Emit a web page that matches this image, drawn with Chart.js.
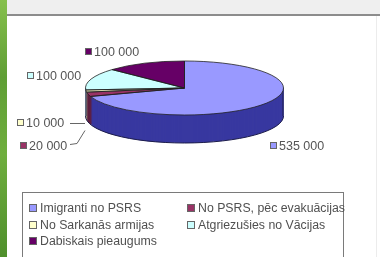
<!DOCTYPE html>
<html>
<head>
<meta charset="utf-8">
<script src="https://cdn.jsdelivr.net/npm/chart.js@4.4.1/dist/chart.umd.min.js"></script>
<style>
  body { margin: 0; background: #fff; font-family: "Liberation Sans", Arial, sans-serif; }
  #wrap { position: relative; width: 380px; height: 257px; overflow: hidden; background: #fff; }
  #green { position: absolute; left: 0; top: 0; width: 7px; height: 257px;
           background: linear-gradient(180deg, #86c04c 0%, #5f9e35 30%, #6fae3e 60%, #4f8f2c 100%); }
  #topband { position: absolute; left: 7px; top: 0; width: 373px; height: 14px; background: #efefef;
             border-bottom: 2px solid #8c8c8c; }
  #rline { position: absolute; left: 376px; top: 16px; width: 1px; height: 241px; background: #ececec; }
  canvas { position: absolute; left: 0; top: 0; }
  #legend { position: absolute; left: 22px; top: 192px; width: 320px; height: 70px;
            border: 1px solid #7a7a7a; background: #fff; }
  .item { position: absolute; font-size: 12.3px; color: #505050; white-space: nowrap; line-height: 14px; }
  .sw { display: inline-block; width: 6px; height: 6px; border: 1px solid #666; margin-right: 3px;
        vertical-align: 0px; }
</style>
</head>
<body>
<div id="wrap">
  <div id="green"></div>
  <div id="topband"></div>
  <div id="rline"></div>
  <canvas id="pie" width="380" height="257"></canvas>
  <div id="legend"></div>
</div>
<script>
// data
const categories = ["Imigranti no PSRS", "No PSRS, pēc evakuācijas", "No Sarkanās armijas",
                    "Atgriezušies no Vācijas", "Dabiskais pieaugums"];
const values = [535000, 20000, 10000, 100000, 100000];

// styles
const topColors  = ["#9999ff", "#993366", "#ffffcc", "#ccffff", "#660066"];
const sideColors = ["#3838a0", "#5e1f3f", "#a8a888", "#88a8a8", "#3e003e"];
const legendSpots = [[6, 8], [164, 8], [6, 25], [164, 25], [6, 41]]; // left, top inside box
const labelSpots  = [[270, 146], [20, 146], [17, 123], [27, 76], [85, 52]]; // marker left, text middle
const leaders = [null, [[70, 144], [77, 143], [85, 130]], [[70, 123], [85, 123]], null, null];

const TOP_Y = 88;      // centre of the top face on screen
const SQUASH = 27 / 99; // ry / rx
const DEPTH = 28;

function fmt(v) { return String(v).replace(/\B(?=(\d{3})+(?!\d))/g, " "); }

function squash(ctx, el, dy) {
  ctx.translate(el.x, TOP_Y + dy);
  ctx.scale(1, SQUASH);
  ctx.translate(-el.x, -el.y);
}

const pie3d = {
  id: "pie3d",
  beforeDatasetsDraw(chart) {
    const ctx = chart.ctx;
    const arcs = chart.getDatasetMeta(0).data;
    // side walls: stacked copies in darker colours
    for (let d = DEPTH; d >= 1; d--) {
      arcs.forEach((el, i) => {
        const o = el.options;
        el.options = Object.assign({}, o, { backgroundColor: sideColors[i], borderWidth: 0 });
        ctx.save();
        squash(ctx, el, d);
        el.draw(ctx);
        ctx.restore();
        el.options = o;
      });
    }
    // outline of the bottom edge and the side edges
    const el = arcs[0];
    ctx.save();
    squash(ctx, el, DEPTH);
    ctx.beginPath();
    ctx.arc(el.x, el.y, el.outerRadius, 0, Math.PI);
    ctx.restore();
    ctx.strokeStyle = "#1c1c4a";
    ctx.lineWidth = 1;
    ctx.stroke();
    ctx.beginPath();
    ctx.moveTo(el.x - el.outerRadius + 0.5, TOP_Y);
    ctx.lineTo(el.x - el.outerRadius + 0.5, TOP_Y + DEPTH);
    ctx.moveTo(el.x + el.outerRadius - 0.5, TOP_Y);
    ctx.lineTo(el.x + el.outerRadius - 0.5, TOP_Y + DEPTH);
    ctx.stroke();
    // top face
    ctx.save();
    squash(ctx, el, 0);
  },
  afterDatasetsDraw(chart) {
    const ctx = chart.ctx;
    ctx.restore();
    // slice outlines on the top face
    chart.getDatasetMeta(0).data.forEach(el => {
      ctx.save();
      squash(ctx, el, 0);
      ctx.beginPath();
      ctx.moveTo(el.x, el.y);
      ctx.arc(el.x, el.y, el.outerRadius, el.startAngle, el.endAngle);
      ctx.closePath();
      ctx.restore();
      ctx.strokeStyle = "#222";
      ctx.lineWidth = 0.8;
      ctx.stroke();
    });
  },
  afterDraw(chart) {
    const ctx = chart.ctx;
    ctx.save();
    ctx.font = "12.5px 'Liberation Sans', Arial, sans-serif";
    ctx.textBaseline = "middle";
    values.forEach((v, i) => {
      const [x, y] = labelSpots[i];
      ctx.fillStyle = topColors[i];
      ctx.fillRect(x + 0.5, y - 3.5, 6, 6);
      ctx.strokeStyle = "#666";
      ctx.lineWidth = 1;
      ctx.strokeRect(x + 0.5, y - 3.5, 6, 6);
      ctx.fillStyle = "#555";
      ctx.fillText(fmt(v), x + 9, y + 0.5);
      if (leaders[i]) {
        ctx.beginPath();
        leaders[i].forEach((p, k) => k ? ctx.lineTo(p[0], p[1] + 0.5) : ctx.moveTo(p[0], p[1] + 0.5));
        ctx.strokeStyle = "#666";
        ctx.stroke();
      }
    });
    ctx.restore();
  }
};

new Chart(document.getElementById("pie"), {
  type: "pie",
  data: {
    labels: categories,
    datasets: [{
      data: values,
      backgroundColor: topColors,
      borderWidth: 0
    }]
  },
  options: {
    responsive: false,
    animation: false,
    events: [],
    layout: { padding: { left: 85, right: 96, top: 20, bottom: 39 } },
    plugins: { legend: { display: false }, tooltip: { enabled: false } }
  },
  plugins: [pie3d]
});

// legend box
const box = document.getElementById("legend");
categories.forEach((c, i) => {
  const d = document.createElement("div");
  d.className = "item";
  d.style.left = legendSpots[i][0] + "px";
  d.style.top = legendSpots[i][1] + "px";
  d.innerHTML = '<span class="sw" style="background:' + topColors[i] + '"></span>' + c;
  box.appendChild(d);
});
</script>
</body>
</html>
